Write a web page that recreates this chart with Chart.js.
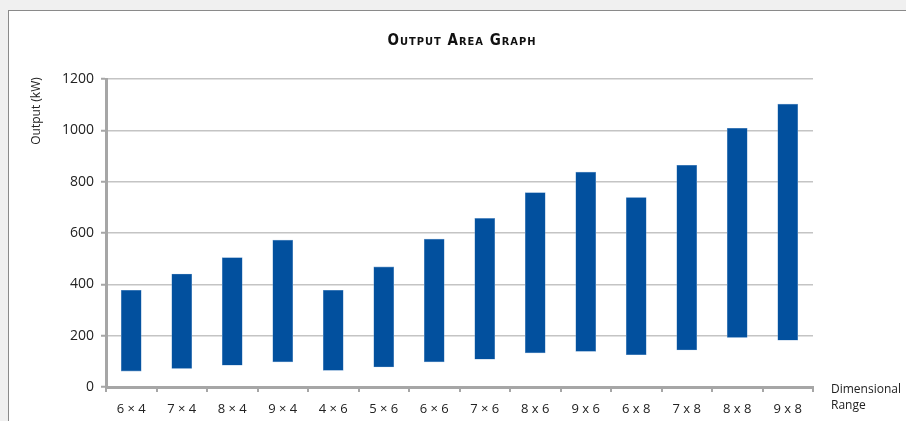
<!DOCTYPE html>
<html>
<head>
<meta charset="utf-8">
<title>Output Area Graph</title>
<script src="https://cdn.jsdelivr.net/npm/chart.js@4"></script>
<style>
  html, body { margin: 0; padding: 0; background: #f0f0f0; overflow: hidden; }
  .panel {
    position: absolute; left: 8px; top: 10px; width: 920px; height: 430px;
    background: #fff; border-left: 1px solid #8a8a8a; border-top: 1px solid #8a8a8a;
  }
  #outputChart { position: absolute; left: 0; top: 0; }
</style>
</head>
<body>
<div class="panel"></div>
<canvas id="outputChart" width="906" height="421"></canvas>
<script>
// Dimensional ranges and the output band (low / high, kW) for each
const ranges = ['6 × 4', '7 × 4', '8 × 4', '9 × 4', '4 × 6', '5 × 6', '6 × 6', '7 × 6',
                '8 x 6', '9 x 6', '6 x 8', '7 x 8', '8 x 8', '9 x 8'];
const outputLow  = [62, 72, 85, 98, 65, 78, 98, 108, 133, 139, 126, 144, 193, 182];
const outputHigh = [377, 440, 504, 572, 377, 468, 576, 657, 757, 837, 738, 864, 1008, 1102];
const yTicks = [0, 200, 400, 600, 800, 1000, 1200];

const chartTitle = 'Output Area Graph';
const yTitle = 'Output (kW)';
const xTitle = ['Dimensional', 'Range'];

const textFont = '"Open Sans", "Noto Sans", sans-serif';

// title, rotated y label and the x label sit outside the usual layout boxes
const labels = {
  id: 'labels',
  afterDraw(chart) {
    const ctx = chart.ctx;
    const area = chart.chartArea;
    ctx.save();
    ctx.fillStyle = '#111';
    ctx.font = 'bold 15px "Liberation Sans Narrow", "DejaVu Sans Condensed", sans-serif';
    ctx.fontVariantCaps = 'small-caps';
    ctx.letterSpacing = '1px';
    ctx.textAlign = 'center';
    ctx.textBaseline = 'alphabetic';
    ctx.fillText(chartTitle, 462, 45);

    ctx.fontVariantCaps = 'normal';
    ctx.letterSpacing = '0px';
    ctx.fillStyle = '#222';
    ctx.font = '12px ' + textFont;
    ctx.save();
    ctx.translate(37, 111);
    ctx.rotate(-Math.PI / 2);
    ctx.textBaseline = 'middle';
    ctx.fillText(yTitle, 0, 0);
    ctx.restore();

    ctx.textAlign = 'left';
    ctx.textBaseline = 'middle';
    xTitle.forEach((line, i) => ctx.fillText(line, area.right + 18, 390 + i * 16));
    ctx.restore();
  }
};

const ctx = document.getElementById('outputChart').getContext('2d');
new Chart(ctx, {
  type: 'bar',
  data: {
    labels: ranges,
    datasets: [{
      label: 'Output',
      data: outputLow.map((lo, i) => [lo, outputHigh[i]]),
      backgroundColor: '#02509e',
      borderColor: '#6f9ccc',
      borderWidth: 0.6,
      borderSkipped: false,
      barThickness: 20
    }]
  },
  options: {
    responsive: false,
    animation: false,
    layout: { padding: { left: 0, top: 79, right: 93, bottom: 0 } },
    plugins: {
      legend: { display: false },
      title: { display: false },
      tooltip: { enabled: false }
    },
    scales: {
      x: {
        afterFit: s => { s.height = 34; },
        grid: { drawOnChartArea: false, drawTicks: true, tickLength: 5, color: '#a6a6a6', lineWidth: 2 },
        border: { color: '#a6a6a6', width: 3 },
        ticks: {
          autoSkip: false, maxRotation: 0, padding: 9,
          color: '#222', font: { family: textFont, size: 13 }
        }
      },
      y: {
        min: 0,
        max: 1200,
        afterFit: s => { s.width = 106; },
        afterBuildTicks: s => { s.ticks = yTicks.map(v => ({ value: v })); },
        grid: { color: '#c4c4c4', lineWidth: 1.5, tickLength: 5, tickColor: '#a6a6a6', tickWidth: 2 },
        border: { color: '#a6a6a6', width: 3 },
        ticks: {
          padding: 7,
          callback: v => String(v),
          color: '#222', font: { family: textFont, size: 14 }
        }
      }
    }
  },
  plugins: [labels]
});
</script>
</body>
</html>
